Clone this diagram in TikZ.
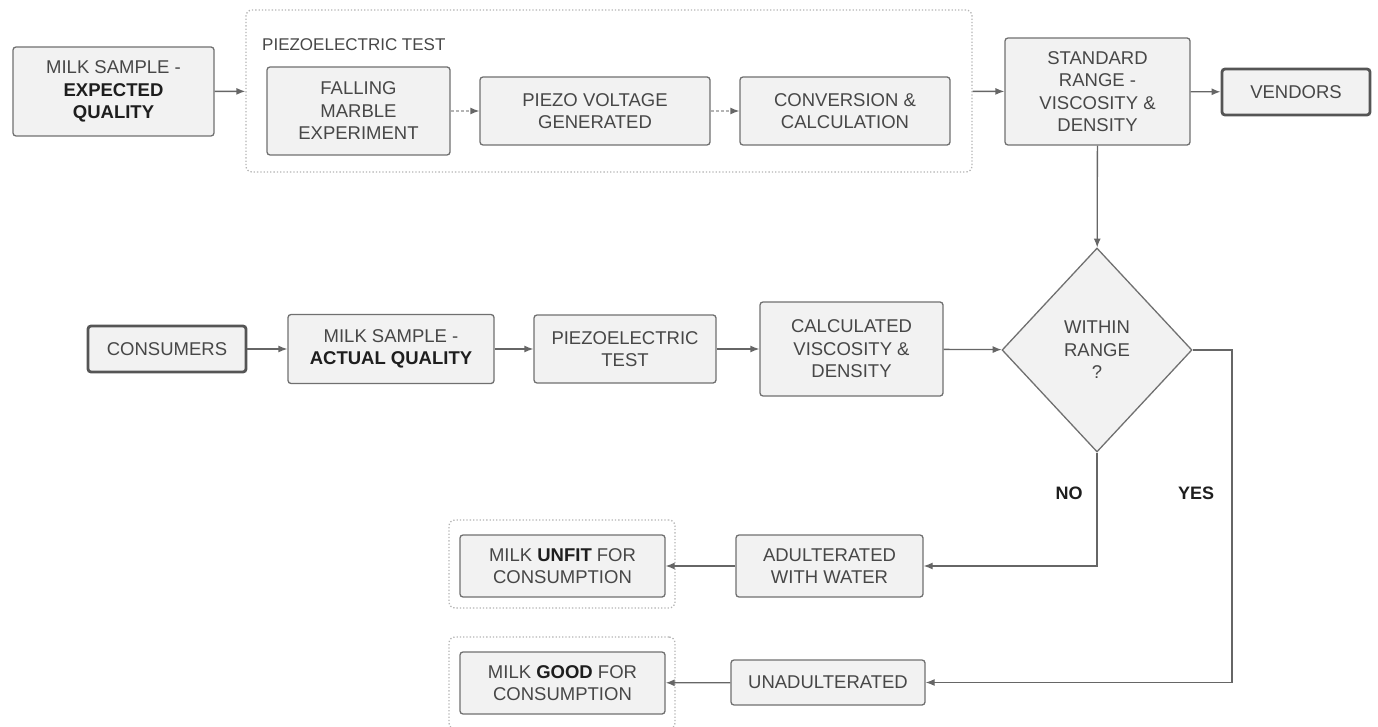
\documentclass[tikz,border=0pt]{standalone}
\usepackage{fontspec}
\setmainfont{Liberation Sans}
\usetikzlibrary{shapes.geometric,arrows.meta}
\definecolor{boxfill}{HTML}{F2F2F2}
\definecolor{boxline}{HTML}{707070}
\definecolor{heavyline}{HTML}{555555}
\definecolor{grpline}{HTML}{B4B4B4}
\definecolor{arrline}{HTML}{666666}
\definecolor{txtgray}{HTML}{474747}
\definecolor{txtdark}{HTML}{1E1E1E}
\newcommand{\bolded}[1]{{\color{txtdark}\bfseries #1}}
\begin{document}
\begin{tikzpicture}[x=1pt,y=-1pt,
  box/.style={draw=boxline,fill=boxfill,rounded corners=3pt,line width=1.3pt,align=center,
    text=txtgray,font=\fontsize{18.5}{22.5}\selectfont,inner sep=0pt},
  heavy/.style={box,draw=heavyline,line width=2.8pt},
  grp/.style={draw=grpline,dotted,line width=1.3pt,rounded corners=6pt,inner sep=0pt},
  decide/.style={diamond,draw=boxline,fill=boxfill,line width=1.3pt,align=center,inner sep=0pt,
    text=txtgray,font=\fontsize{18.5}{22.5}\selectfont},
  arr/.style={draw=arrline,line width=1.3pt,-{Latex[length=9pt,width=7pt]}},
  inarr/.style={draw=grpline,line width=1.3pt,densely dashed,-{Latex[length=9pt,width=7pt,color=arrline]}},
  tag/.style={font=\fontsize{18}{20}\selectfont\bfseries,text=txtdark}]
   \useasboundingbox (0,0) rectangle (1378,727);
   % dotted groups
   \node[grp,minimum width=726pt,minimum height=162pt] (piezo) at (609,91) {};
   \node[grp,minimum width=226pt,minimum height=88pt] (unfitgrp) at (562,564) {};
   \node[grp,minimum width=226pt,minimum height=92pt] (goodgrp) at (562,683) {};
   \node[anchor=west,inner sep=0pt,text=txtgray,font=\fontsize{17}{20}\selectfont] (piezolbl) at (262,45) {PIEZOELECTRIC TEST};
   % top row
   \node[box,minimum width=201pt,minimum height=89pt] (exp) at (113.5,91.5) {MILK SAMPLE -\\\bolded{EXPECTED}\\\bolded{QUALITY}};
   \node[box,minimum width=183pt,minimum height=88pt] (fall) at (358.5,111) {FALLING\\MARBLE\\EXPERIMENT};
   \node[box,minimum width=230pt,minimum height=68pt] (volt) at (595,111) {PIEZO VOLTAGE\\GENERATED};
   \node[box,minimum width=210pt,minimum height=68pt] (conv) at (845,111) {CONVERSION \&\\CALCULATION};
   \node[box,minimum width=185pt,minimum height=107pt] (std) at (1097.5,91.5) {STANDARD\\RANGE -\\VISCOSITY \&\\DENSITY};
   \node[heavy,minimum width=148pt,minimum height=46pt] (vend) at (1296,92) {VENDORS};
   % middle row
   \node[heavy,minimum width=158pt,minimum height=46pt] (cons) at (167,349) {CONSUMERS};
   \node[box,minimum width=206pt,minimum height=69pt] (act) at (391,349) {MILK SAMPLE -\\\bolded{ACTUAL QUALITY}};
   \node[box,minimum width=182pt,minimum height=68pt] (ptest) at (625,349) {PIEZOELECTRIC\\TEST};
   \node[box,minimum width=183pt,minimum height=94pt] (calc) at (851.5,349) {CALCULATED\\VISCOSITY \&\\DENSITY};
   \node[decide,minimum width=190pt,minimum height=204pt] (dia) at (1097,350) {WITHIN\\RANGE\\?};
   \node[tag] (no) at (1069,493) {NO};
   \node[tag] (yes) at (1196,493) {YES};
   % results
   \node[box,minimum width=187pt,minimum height=62pt] (adult) at (829.5,566) {ADULTERATED\\WITH WATER};
   \node[box,minimum width=194pt,minimum height=45pt] (unad) at (828,682.5) {UNADULTERATED};
   \node[box,minimum width=205pt,minimum height=62pt] (unfit) at (562.5,566) {MILK \bolded{UNFIT} FOR\\CONSUMPTION};
   \node[box,minimum width=205pt,minimum height=62pt] (good) at (562.5,683) {MILK \bolded{GOOD} FOR\\CONSUMPTION};
   \coordinate (turn) at (1232,350);
   % connectors
   \draw[arr] (exp) -- (piezo);
   \draw[inarr] (fall) -- (volt);
   \draw[inarr] (volt) -- (conv);
   \draw[arr] (piezo) -- (std);
   \draw[arr] (std) -- (vend);
   \draw[arr] (std) -- (dia);
   \draw[arr] (cons) -- (act);
   \draw[arr] (act) -- (ptest);
   \draw[arr] (ptest) -- (calc);
   \draw[arr] (calc) -- (dia);
   \draw[arr] (dia.south) |- (adult);
   \draw[arr] (dia.east) -- (turn) |- (unad);
   \draw[arr] (adult) -- (unfit);
   \draw[arr] (unad) -- (good);
\end{tikzpicture}
\end{document}
